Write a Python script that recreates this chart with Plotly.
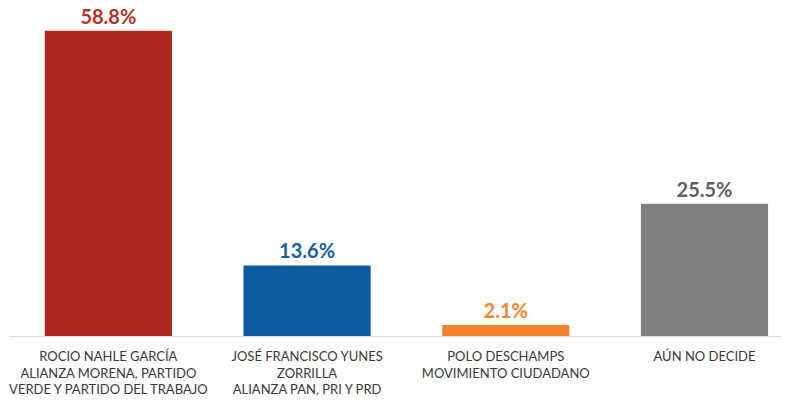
import plotly.graph_objects as go

categories = [
    "ROCIO NAHLE GARCÍA<br>ALIANZA MORENA, PARTIDO<br>VERDE Y PARTIDO DEL TRABAJO",
    "JOSÉ FRANCISCO YUNES<br>ZORRILLA<br>ALIANZA PAN, PRI Y PRD",
    "POLO DESCHAMPS<br>MOVIMIENTO CIUDADANO",
    "AÚN NO DECIDE",
]
values = [58.8, 13.6, 2.1, 25.5]
bar_colors = ["#B0291E", "#0E5AA0", "#F5822A", "#7F7F7F"]
text_colors = ["#B0352A", "#1E5E9E", "#F5852E", "#5F5F5F"]

x_idx = list(range(len(categories)))

fig = go.Figure(
    go.Bar(
        x=x_idx,
        y=values,
        width=0.64,
        marker=dict(color=bar_colors, line=dict(width=0)),
        text=[f"<b>{v:.1f}%</b>" for v in values],
        textposition="outside",
        textfont=dict(family="Lato, Open Sans, sans-serif", size=20, color=text_colors),
        cliponaxis=False,
        hoverinfo="skip",
    )
)

fig.update_layout(
    width=791,
    height=404,
    margin=dict(l=9, r=10, t=10, b=68, autoexpand=False),
    paper_bgcolor="white",
    plot_bgcolor="white",
    showlegend=False,
    font=dict(family="Lato, Open Sans, sans-serif"),
    xaxis=dict(
        range=[-0.5, 3.385],
        tickmode="array",
        tickvals=x_idx,
        ticktext=categories,
        tickfont=dict(size=13, color="#383838"),
        showline=True,
        linecolor="#D9D9D9",
        linewidth=1,
        ticks="outside",
        ticklen=8,
        tickcolor="rgba(0,0,0,0)",
        showgrid=False,
        zeroline=False,
        automargin=False,
        fixedrange=True,
    ),
    yaxis=dict(
        range=[0, 62.8],
        visible=False,
        showgrid=False,
        zeroline=False,
        automargin=False,
        fixedrange=True,
    ),
)

fig.write_html(
    "out.html",
    config={"displayModeBar": False, "staticPlot": True},
    post_script="document.body.style.margin='0';document.body.style.overflow='hidden';",
)
